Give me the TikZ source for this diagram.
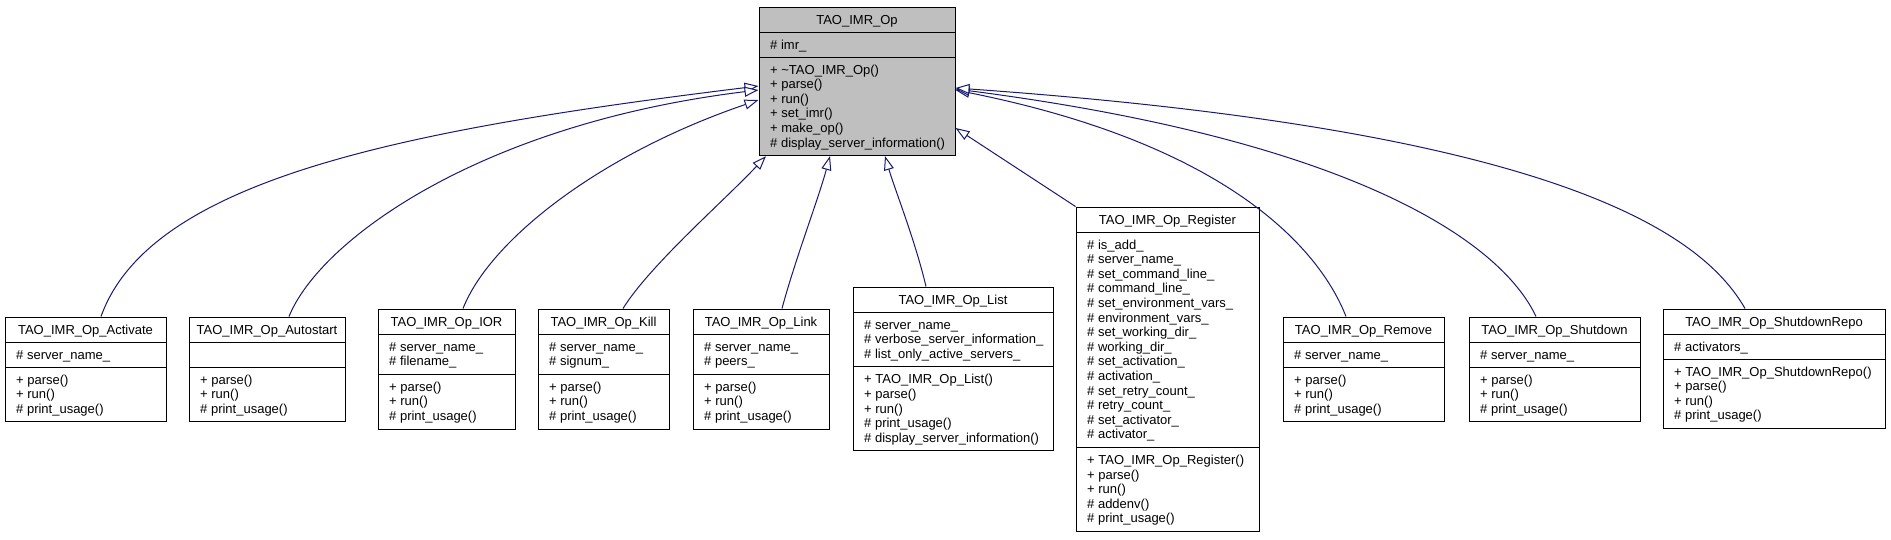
\documentclass[tikz,border=0pt]{standalone}
\usepackage{fontspec}
\setmainfont{Liberation Sans}
\usetikzlibrary{arrows.meta,fit}
\definecolor{edgeblue}{HTML}{191970}
\definecolor{basegray}{HTML}{BFBFBF}
\tikzset{
  classframe/.style={draw=black, line width=1pt, inner sep=0pt},
  rowtxt/.style={font=\fontsize{13}{14.6}\selectfont, inner sep=0pt, anchor=base west},
  edge/.style={draw=edgeblue, line width=1pt, -{Triangle[length=14pt,width=10pt,fill=white]}},
}
\newcommand\boxfill{white}
% #1 name #2 left #3 right #4 top #5 second separator #6 bottom #7 title #8 attributes #9 methods
\newcommand\classbox[9]{%
  \node[classframe, fill=\boxfill, fit={(#2,#4) (#3,#6)}] (#1) {};
  \draw[line width=1pt] (#2,#4+25) -- (#3,#4+25);
  \draw[line width=1pt] (#2,#5) -- (#3,#5);
  \node[rowtxt, anchor=base] (#1-t) at ({(#2+#3)/2},#4+17) {#7};
  \foreach \t [count=\i] in {#8} {\node[rowtxt] (#1-a\i) at (#2+11,#4+42+14.6*\i-14.6) {\t};}
  \foreach \t [count=\i] in {#9} {\node[rowtxt] (#1-m\i) at (#2+11,#5+17+14.6*\i-14.6) {\t};}
}
\begin{document}
\begin{tikzpicture}[x=1pt,y=-1pt]
\useasboundingbox (0,0) rectangle (1891,539);
\renewcommand\boxfill{basegray}
\classbox{base}{759}{955}{7}{57}{155.6}{TAO\_IMR\_Op}{{\# imr\_}}{{+ \textasciitilde TAO\_IMR\_Op()},{+ parse()},{+ run()},{+ set\_imr()},{+ make\_op()},{\# display\_server\_information()}}
\renewcommand\boxfill{white}
\classbox{act}{5}{166}{317}{367}{421.8}{TAO\_IMR\_Op\_Activate}{{\# server\_name\_}}{{+ parse()},{+ run()},{\# print\_usage()}}
\classbox{auto}{189}{345}{317}{367}{421.8}{TAO\_IMR\_Op\_Autostart}{}{{+ parse()},{+ run()},{\# print\_usage()}}
\classbox{ior}{378}{515}{309}{374.2}{429}{TAO\_IMR\_Op\_IOR}{{\# server\_name\_},{\# filename\_}}{{+ parse()},{+ run()},{\# print\_usage()}}
\classbox{kill}{538}{669}{309}{374.2}{429}{TAO\_IMR\_Op\_Kill}{{\# server\_name\_},{\# signum\_}}{{+ parse()},{+ run()},{\# print\_usage()}}
\classbox{link}{693}{829}{309}{374.2}{429}{TAO\_IMR\_Op\_Link}{{\# server\_name\_},{\# peers\_}}{{+ parse()},{+ run()},{\# print\_usage()}}
\classbox{list}{853}{1053}{287}{366.8}{450.8}{TAO\_IMR\_Op\_List}{{\# server\_name\_},{\# verbose\_server\_information\_},{\# list\_only\_active\_servers\_}}{{+ TAO\_IMR\_Op\_List()},{+ parse()},{+ run()},{\# print\_usage()},{\# display\_server\_information()}}
\classbox{reg}{1076}{1259}{207}{447.4}{531.4}{TAO\_IMR\_Op\_Register}{{\# is\_add\_},{\# server\_name\_},{\# set\_command\_line\_},{\# command\_line\_},{\# set\_environment\_vars\_},{\# environment\_vars\_},{\# set\_working\_dir\_},{\# working\_dir\_},{\# set\_activation\_},{\# activation\_},{\# set\_retry\_count\_},{\# retry\_count\_},{\# set\_activator\_},{\# activator\_}}{{+ TAO\_IMR\_Op\_Register()},{+ parse()},{+ run()},{\# addenv()},{\# print\_usage()}}
\classbox{rem}{1283}{1444}{317}{367}{421.8}{TAO\_IMR\_Op\_Remove}{{\# server\_name\_}}{{+ parse()},{+ run()},{\# print\_usage()}}
\classbox{shut}{1469}{1640}{317}{367}{421.8}{TAO\_IMR\_Op\_Shutdown}{{\# server\_name\_}}{{+ parse()},{+ run()},{\# print\_usage()}}
\classbox{repo}{1663}{1885}{309}{359}{428.4}{TAO\_IMR\_Op\_ShutdownRepo}{{\# activators\_}}{{+ TAO\_IMR\_Op\_ShutdownRepo()},{+ parse()},{+ run()},{\# print\_usage()}}
% inheritance connectors
\draw[edge] (act.north -| 101,0) .. controls (150,180) and (400,130) .. (base.west |- 0,86);
\draw[edge] (auto.north -| 289,0) .. controls (320,240) and (480,124) .. (base.west |- 0,90);
\draw[edge] (ior.north -| 463,0) .. controls (490,240) and (600,154) .. (base.west |- 0,100);
\draw[edge] (kill.north -| 623,0) .. controls (650,265) and (725,200) .. (base.south -| 766,0);
\draw[edge] (link.north -| 782,0) .. controls (795,260) and (818,200) .. (base.south -| 830,0);
\draw[edge] (list.north -| 926,0) .. controls (915,240) and (895,190) .. (base.south -| 885,0);
\draw[edge] (reg.north west) -- (base.east |- 0,128);
\draw[edge] (rem.north -| 1346,0) .. controls (1320,250) and (1230,145) .. (base.east |- 0,90);
\draw[edge] (shut.north -| 1536,0) .. controls (1500,240) and (1350,140) .. (base.east |- 0,89);
\draw[edge] (repo.north -| 1745,0) .. controls (1700,230) and (1550,130) .. (base.east |- 0,88);
\end{tikzpicture}
\end{document}
